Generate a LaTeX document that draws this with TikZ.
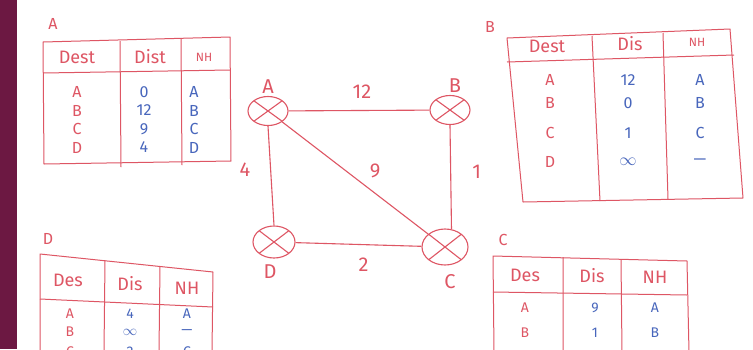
\documentclass[tikz,border=0pt]{standalone}
\usepackage{fontspec}
\setmainfont{Fira Sans}
\usetikzlibrary{shapes.geometric, positioning}

\definecolor{pen}{RGB}{222,86,100}
\definecolor{ink}{RGB}{72,102,188}
\definecolor{slide}{RGB}{108,24,66}

\begin{document}
\begin{tikzpicture}[
      x=1pt, y=-1pt,
      router/.style={ellipse, draw=pen, line width=1.1pt, minimum width=40pt, minimum height=29pt, inner sep=0pt,
        path picture={\draw[pen, line width=1.1pt]
          (path picture bounding box.north west) -- (path picture bounding box.south east)
          (path picture bounding box.north east) -- (path picture bounding box.south west);}},
      link/.style={draw=pen, line width=1.1pt},
      weight/.style={text=pen, font=\fontsize{20}{24}\selectfont, inner sep=1pt},
      rname/.style={text=pen, font=\fontsize{20}{24}\selectfont, inner sep=1pt},
      tname/.style={text=pen, font=\fontsize{16}{19}\selectfont, inner sep=0pt},
      grid/.style={draw=pen, line width=1pt, line join=round},
      head/.style={text=pen, font=\fontsize{18}{22}\selectfont, inner sep=0pt},
      small head/.style={head, font=\fontsize{12}{14}\selectfont},
      dest/.style={text=pen, font=\fontsize{16}{19}\selectfont, inner sep=0pt},
      val/.style={text=ink, font=\fontsize{16}{19}\selectfont, inner sep=0pt},
      low/.style={font=\fontsize{14}{16}\selectfont}
    ]
    \useasboundingbox (0,0) rectangle (753,349);
    \clip (0,0) rectangle (753,349);
    \fill[white] (0,0) rectangle (753,349);
    \fill[slide] (0,0) rectangle (17,349);

    % network
    \node[router] (ra) at (268,111) {};
    \node[router] (rb) at (450,110) {};
    \node[router, minimum width=42pt, minimum height=32pt] (rd) at (274,242) {};
    \node[router, minimum width=46pt, minimum height=36pt] (rc) at (445,247) {};

    \node[rname, above=1pt of ra] (la) {A};
    \node[rname, above=1pt of rb, xshift=5pt] (lb) {B};
    \node[rname, below=5pt of rd, xshift=-4pt] (ld) {D};
    \node[rname, below=8pt of rc, xshift=5pt] (lc) {C};

    \draw[link] (ra) -- node[weight, xshift=3pt, yshift=19pt] (wab) {12} (rb);
    \draw[link] (rb.south) -- node[weight, xshift=26pt, yshift=5pt] (wbc) {1} (rc.70);
    \draw[link] (ra.south) -- node[weight, xshift=-26pt, yshift=6pt] (wad) {4} (rd.north);
    \draw[link] (rd) -- node[weight, xshift=5pt, yshift=-20pt] (wdc) {2} (rc);
    \draw[link] (ra) -- node[weight, xshift=20pt, yshift=7pt] (wac) {9} (rc);

    % table of A
    \node[tname] (ta) at (53,24) {A};
    \draw[grid] (43,42) -- (230,37) -- (231,161) -- (44,164) -- cycle;
    \draw[grid] (43,73) -- (230,70);
    \draw[grid] (120,41) -- (121,167) (181,39) -- (182,165);
    \node[head] (a-dest) at (77,57) {Dest};
    \node[head] (a-dist) at (150,57) {Dist};
    \node[small head] (a-nh) at (204,57) {NH};
    \foreach \d/\s/\n [count=\i] in {A/0/A, B/12/B, C/9/C, D/4/D} {
      \node[dest] (a-d\i) at (77,{73.5+18.5*\i}) {\d};
      \node[val] (a-s\i) at (144,{73.5+18.5*\i}) {\s};
      \node[val] (a-n\i) at (194,{73.5+18.5*\i}) {\n};
    }

    % table of B
    \node[tname] (tb) at (490,27) {B};
    \draw[grid] (507,38) -- (730,29) -- (743,198) -- (523,202) -- cycle;
    \draw[grid] (507,62) -- (734,55);
    \draw[grid] (592,36) -- (600,201) (663,33) -- (668,199);
    \node[head] (b-dest) at (547,46) {Dest};
    \node[head] (b-dist) at (630,44) {Dis};
    \node[small head] (b-nh) at (697,42) {NH};
    \foreach \y/\d/\s/\n [count=\i] in {80/A/12/A, 103/B/0/B, 133/C/1/C, 162/D/$\infty$/---} {
      \node[dest] (b-d\i) at (550,\y) {\d};
      \node[val] (b-s\i) at (628,\y) {\s};
      \node[val] (b-n\i) at (700,\y) {\n};
    }

    % table of D
    \node[tname] (td) at (48,239) {D};
    \draw[grid] (40,352) -- (40,254) -- (213,272) -- (212,352);
    \draw[grid] (40,299) -- (213,307);
    \draw[grid] (105,260) -- (104,352) (160,266) -- (159,352);
    \node[head] (d-dest) at (68,280) {Des};
    \node[head] (d-dist) at (130,284) {Dis};
    \node[head] (d-nh) at (187,288) {NH};
    \foreach \y/\d/\s/\n [count=\i] in {314/A/4/A, 332/B/$\infty$/---, 352/C/2/C} {
      \node[dest, low] (d-d\i) at (70,\y) {\d};
      \node[val, low] (d-s\i) at (130,\y) {\s};
      \node[val, low] (d-n\i) at (187,\y) {\n};
    }

    % table of C
    \node[tname] (tc) at (503,240) {C};
    \draw[grid] (494,352) -- (493,256) -- (687,261) -- (689,352);
    \draw[grid] (493,292) -- (687,295);
    \draw[grid] (563,257) -- (563,352) (621,259) -- (622,352);
    \node[head] (c-dest) at (525,275) {Des};
    \node[head] (c-dist) at (592,276) {Dis};
    \node[head] (c-nh) at (655,277) {NH};
    \foreach \y/\d/\s/\n [count=\i] in {308/A/9/A, 333/B/1/B} {
      \node[dest, low] (c-d\i) at (525,\y) {\d};
      \node[val, low] (c-s\i) at (595,\y) {\s};
      \node[val, low] (c-n\i) at (655,\y) {\n};
    }
  \end{tikzpicture}
\end{document}
